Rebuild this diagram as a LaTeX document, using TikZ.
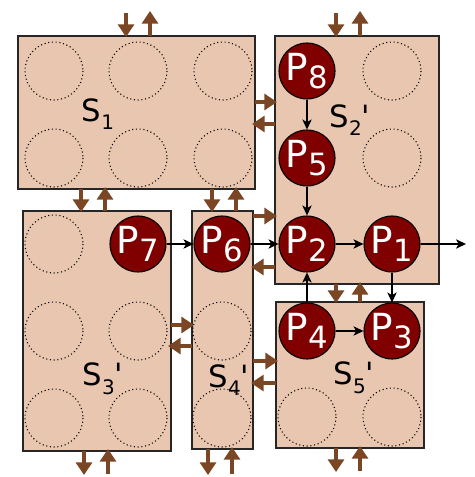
\documentclass[tikz,border=0pt]{standalone}
\usepackage{fontspec}
\newfontfamily\df{DejaVu Sans}[Ligatures=TeXOff]
\usetikzlibrary{arrows.meta}
\definecolor{boxfill}{HTML}{E8C6AF}
\definecolor{brownarr}{HTML}{7A4623}
\definecolor{proc}{HTML}{800000}
\newcommand{\lbl}[3]{#1\raisebox{-0.28em}{\fontsize{15}{15}\selectfont #2}#3}
\newcommand{\plbl}[2]{#1\raisebox{-0.22em}{\fontsize{23}{23}\selectfont #2}}
\begin{document}
\begin{tikzpicture}[x=0.75pt,y=-0.75pt,
  box/.style={fill=boxfill,draw=black!85,line width=0.9pt},
  slot/.style={draw=black,dotted,line width=0.8pt},
  proc/.style={circle,fill=proc,draw=black,line width=0.8pt,minimum size=42pt,inner sep=0pt,text=white,font=\df\fontsize{28}{30}\selectfont},
  slbl/.style={font=\df\fontsize{23}{26}\selectfont,inner sep=0pt},
  bar/.style={draw=brownarr,line width=2.8pt,-{Triangle[width=12pt,length=9.5pt]}},
  flow/.style={draw=black,line width=1pt,-{Stealth[length=7.5pt,width=7pt,inset=2pt]}}]
\useasboundingbox (0,0) rectangle (474,477);
% boxes
\path[box] (18,36) rectangle (255,189);
\path[box] (275,36) rectangle (439,284);
\path[box] (23,211) rectangle (171,451);
\path[box] (192,211) rectangle (253,449);
\path[box] (276,302) rectangle (424,448);
% dotted slots
\foreach \p in {(54,71),(138,71),(223,71),(54,158),(138,158),(223,158),
  (392,71),(392,158),
  (54,244),(54,331),(138,331),(54,418),(138,418),
  (222,331),(222,418),
  (307,417),(392,417)}
  \draw[slot] \p circle (29);
% labels
\node[slbl] (l1) at (98,114) {\lbl{S}{1}{}};
\node[slbl] (l2) at (350,120) {\lbl{S}{2}{'}};
\node[slbl] (l3) at (103,379) {\lbl{S}{3}{'}};
\node[slbl] (l4) at (229,380) {\lbl{S}{4}{'}};
\node[slbl] (l5) at (354,378) {\lbl{S}{5}{'}};
% processes
\node[proc] (P8) at (307,71) {\plbl{P}{8}};
\node[proc] (P5) at (307,158) {\plbl{P}{5}};
\node[proc] (P2) at (307,244) {\plbl{P}{2}};
\node[proc] (P1) at (392,244) {\plbl{P}{1}};
\node[proc] (P7) at (138,244) {\plbl{P}{7}};
\node[proc] (P6) at (222,244) {\plbl{P}{6}};
\node[proc] (P4) at (307,331) {\plbl{P}{4}};
\node[proc] (P3) at (392,331) {\plbl{P}{3}};
\coordinate (out) at (466,244);
% flows
\draw[flow] (P8) -- (P5);
\draw[flow] (P5) -- (P2);
\draw[flow] (P7) -- (P6);
\draw[flow] (P6) -- (P2);
\draw[flow] (P2) -- (P1);
\draw[flow] (P1) -- (out);
\draw[flow] (P4) -- (P2);
\draw[flow] (P1) -- (P3);
\draw[flow] (P4) -- (P3);
% brown transfer arrows
\draw[bar] (126,13) -- (126,37);  \draw[bar] (150,36) -- (150,11);
\draw[bar] (336,13) -- (336,37);  \draw[bar] (360,36) -- (360,11);
\draw[bar] (81,189) -- (81,212);  \draw[bar] (105,211) -- (105,187);
\draw[bar] (212,189) -- (212,212); \draw[bar] (236,211) -- (236,187);
\draw[bar] (255,102) -- (277,102); \draw[bar] (275,124) -- (252,124);
\draw[bar] (253,216) -- (277,216); \draw[bar] (275,267) -- (251,267);
\draw[bar] (171,325) -- (194,325); \draw[bar] (192,346) -- (168,346);
\draw[bar] (253,361) -- (278,361); \draw[bar] (276,383) -- (251,383);
\draw[bar] (336,284) -- (336,303); \draw[bar] (360,302) -- (360,282);
\draw[bar] (84,451) -- (84,475);  \draw[bar] (108,474) -- (108,449);
\draw[bar] (208,449) -- (208,475); \draw[bar] (232,474) -- (232,447);
\draw[bar] (336,448) -- (336,472); \draw[bar] (360,471) -- (360,446);
\end{tikzpicture}
\end{document}
